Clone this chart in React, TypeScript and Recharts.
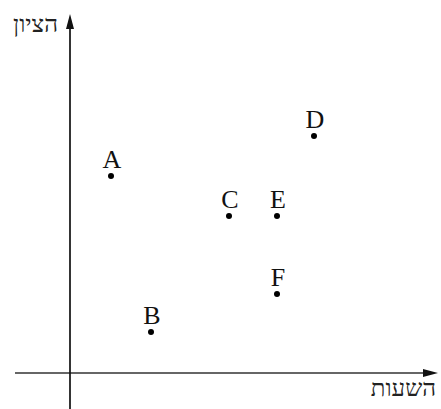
import { ScatterChart, Scatter, XAxis, YAxis, ReferenceLine } from "recharts";

// point names and their (hours, score) positions
const names = ["A", "B", "C", "D", "E", "F"];
const hours = [4.1, 8.1, 15.9, 24.4, 20.7, 20.7];
const scores = [19.7, 4.1, 15.7, 23.7, 15.7, 7.9];

const xLabel = "השעות";
const yLabel = "הציון";

const points = names.map((name, i) => ({ name, x: hours[i], y: scores[i] }));

const FONT = "'Liberation Serif', 'Times New Roman', serif";

const Dot = (props: any) => {
  const { cx, cy, payload } = props;
  return (
    <g>
      <circle cx={cx} cy={cy} r={3} fill="#000" />
      <text
        x={cx + 1}
        y={cy - 8}
        textAnchor="middle"
        fontFamily={FONT}
        fontSize={26}
        fill="#111"
      >
        {payload.name}
      </text>
    </g>
  );
};

const XArrow = (props: any) => {
  const { x1, y1, x2, y2 } = props;
  return (
    <g>
      <line x1={x1} y1={y1} x2={x2 - 12} y2={y2} stroke="#333" strokeWidth={1.7} />
      <polygon points={`${x2},${y2} ${x2 - 15},${y2 - 4} ${x2 - 15},${y2 + 4}`} fill="#111" />
      <text x={x2 - 2} y={y2 + 23} textAnchor="end" fontFamily={FONT} fontSize={24} fill="#222">
        {xLabel}
      </text>
    </g>
  );
};

const YArrow = (props: any) => {
  const { x1, y1, x2, y2 } = props;
  return (
    <g>
      <line x1={x1} y1={y1} x2={x2} y2={y2 + 12} stroke="#111" strokeWidth={1.7} />
      <polygon points={`${x2},${y2} ${x2 - 4},${y2 + 15} ${x2 + 4},${y2 + 15}`} fill="#111" />
      <text x={x2 - 12} y={y2 + 18} textAnchor="end" fontFamily={FONT} fontSize={24} fill="#222">
        {yLabel}
      </text>
    </g>
  );
};

const App = () => {
  return (
    <div style={{ position: "absolute", left: 0, top: 0, background: "#fff" }}>
      <ScatterChart width={441} height={409} margin={{ top: 0, right: 0, bottom: 0, left: 0 }}>
        <XAxis type="number" dataKey="x" domain={[-7, 37.1]} hide />
        <YAxis type="number" dataKey="y" domain={[-3.6, 37.3]} hide />
        <ReferenceLine
          segment={[{ x: -5.5, y: 0 }, { x: 36.8, y: 0 }]}
          ifOverflow="visible"
          shape={XArrow}
        />
        <ReferenceLine
          segment={[{ x: 0, y: -3.6 }, { x: 0, y: 35.9 }]}
          ifOverflow="visible"
          shape={YArrow}
        />
        <Scatter data={points} shape={Dot} isAnimationActive={false} />
      </ScatterChart>
    </div>
  );
};

export default App;
